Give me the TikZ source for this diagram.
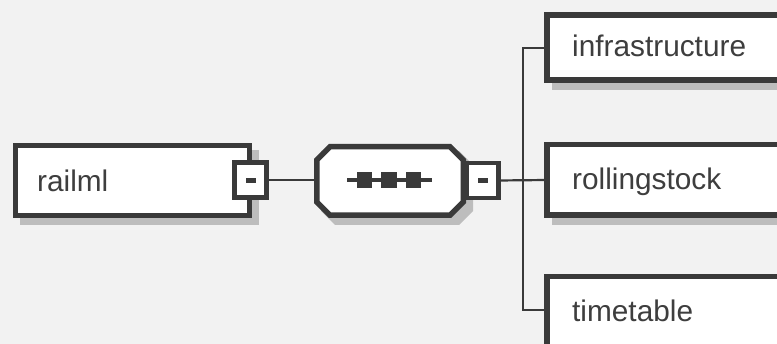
\documentclass[tikz,border=0pt]{standalone}
\usepackage{fontspec}
\setmainfont{Liberation Sans}
\definecolor{bord}{HTML}{3A3A3A}
\definecolor{bg}{HTML}{F2F2F2}
\definecolor{shd}{HTML}{BDBDBD}
\definecolor{txt}{HTML}{3E3E3E}
\begin{document}
\begin{tikzpicture}[x=1pt,y=-1pt,
  elem/.style={draw=bord,line width=5.5pt,fill=white,inner sep=0pt,outer sep=0pt,rectangle},
  minusbox/.style={draw=bord,line width=4.5pt,fill=white,inner sep=0pt,outer sep=0pt,rectangle,minimum width=32pt,minimum height=35pt},
  lbl/.style={text=txt,font=\fontsize{29.8}{31}\selectfont,anchor=base west,inner sep=0pt},
  conn/.style={draw=bord,line width=2.2pt},
  shadow/.style={fill=shd}]
\useasboundingbox (0,0) rectangle (777,344);
\fill[bg] (0,0) rectangle (777,344);
\begin{scope}
\clip (0,0) rectangle (777,344);
% shadows
\fill[shadow] (20,150) rectangle (259,225);
\fill[shadow] (552,19) rectangle (800,90);
\fill[shadow] (552,149) rectangle (800,225);
\fill[shadow] (321,151) -- (459,151) -- (473,165) -- (473,211) -- (459,225) -- (335,225) -- (321,211) -- cycle;
% railml
\node[elem,minimum width=234pt,minimum height=70pt] (railml) at (132.5,180.5) {};
\node[lbl] (railmltxt) at (37,192) {railml};
\node[minusbox] (m1) at (250.5,180) {};
\fill[bord] (246,178) rectangle (256,183);
% sequence octagon
\draw[draw=bord,line width=5.5pt,fill=white,line join=miter]
  (330,146.75) -- (450,146.75) -- (463.25,160) -- (463.25,202) -- (450,215.25) -- (330,215.25) -- (316.75,202) -- (316.75,160) -- cycle;
\coordinate (seqW) at (314,180);
\node[minusbox] (m2) at (482.5,180.5) {};
\fill[bord] (478,178) rectangle (488,183);
\draw[bord,line width=4pt] (347,180) -- (432,180);
\fill[bord] (357,172) rectangle (372,188);
\fill[bord] (381,172) rectangle (397,188);
\fill[bord] (406,172) rectangle (421,188);
% children
\node[elem,minimum width=270pt,minimum height=65pt] (infra) at (681.75,47.5) {};
\node[lbl] at (572,57) {infrastructure};
\node[elem,minimum width=270pt,minimum height=70.5pt] (rolling) at (681.75,180) {};
\node[lbl] at (572,190) {rollingstock};
\node[elem,minimum width=270pt,minimum height=75pt] (timetable) at (681.75,314) {};
\node[lbl] at (572,322) {timetable};
% connectors
\coordinate (bus) at (523,180);
\draw[conn] (m1.east) -- (seqW);
\draw[conn] (m2.east) -- (rolling.west);
\draw[conn] (infra.west |- 0,48) -- (bus |- 0,48) -- (bus |- 0,310) -- (timetable.west |- 0,310);
\end{scope}
\end{tikzpicture}
\end{document}
